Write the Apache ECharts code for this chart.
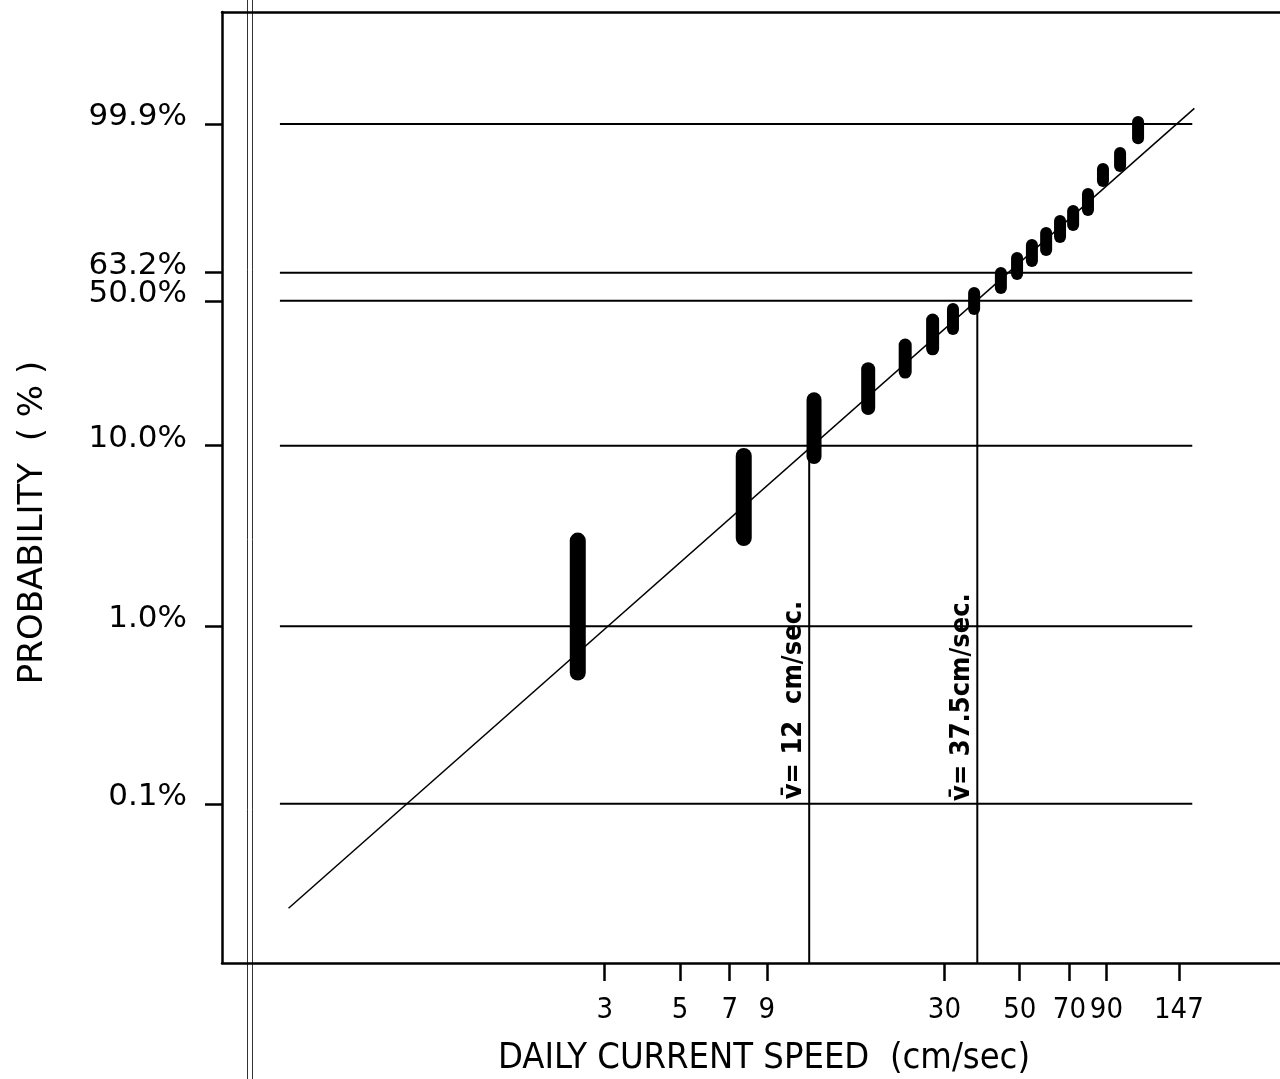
<!DOCTYPE html>
<html>
<head>
<meta charset="utf-8">
<script src="https://cdn.jsdelivr.net/npm/echarts@6/dist/echarts.min.js"></script>
<style>html,body{margin:0;padding:0;background:#fff}#c{width:1280px;height:1079px}</style>
</head>
<body>
<div id="c"></div>
<script>
// ---- data (speeds in cm/sec, probabilities in %) ----
const speedTicks = [3, 5, 7, 9, 30, 50, 70, 90, 147];
const probTicks = [0.1, 1.0, 10.0, 50.0, 63.2, 99.9];
const probTickLabels = ['0.1%', '1.0%', '10.0%', '50.0%', '63.2%', '99.9%'];

// observed clusters: speed bin, lowest and highest plotted probability
const clusterSpeed    = [2.5, 7.7, 12.4, 17.9, 23.0, 27.7, 31.8, 36.7, 44.0, 49.1, 54.3, 59.8, 65.7, 71.8, 79.4, 87.9, 98.7, 111.5];
const clusterProbLow  = [0.55, 3.12, 8.75, 15.8, 24.0, 31.0, 38.1, 46.4, 55.9, 62.5, 68.7, 73.9, 79.6, 84.4, 89.5, 96.28, 98.17, 99.68];
const clusterProbHigh = [3.02, 8.80, 17.4, 24.8, 32.3, 41.7, 46.4, 53.6, 63.0, 70.2, 76.1, 81.2, 85.9, 89.2, 93.8, 97.86, 99.12, 99.916];

// fitted Weibull line end points
const fitSpeed = [0.352, 163.3];
const fitProb  = [0.0257, 99.979];

// horizontal reference lines extent (speed)
const refLineSpeed = [0.332, 161];

// mean speed markers
const meanSpeed = [12, 37.5];
const meanProbTop = [10.0, 50.0];
const meanLabelProb = [0.385, 0.40];
const meanLabels = ['v\u0304= 12  cm/sec.', 'v\u0304= 37.5cm/sec.'];

// axis extents
const xMinSpeed = 0.2242, xMaxSpeed = 291.8;
const yMinW = -8.978, yMaxW = 3.389;

// ---- scales ----
const lg = v => Math.log10(v);
const wb = p => Math.log(-Math.log(1 - p / 100));

const condensed = '"DejaVu Sans Condensed", "Liberation Sans Narrow", "DejaVu Sans", sans-serif';
const sans = '"DejaVu Sans", sans-serif';

const chart = echarts.init(document.getElementById('c'), null, {renderer: 'canvas'});

const series = [];
probTicks.forEach(p => {
  series.push({
    type: 'line', silent: true, symbol: 'none', animation: false,
    data: [[lg(refLineSpeed[0]), wb(p)], [lg(refLineSpeed[1]), wb(p)]],
    lineStyle: {color: '#000', width: 2}
  });
});
series.push({
  type: 'line', silent: true, symbol: 'none', animation: false,
  data: fitSpeed.map((s, i) => [lg(s), wb(fitProb[i])]),
  lineStyle: {color: '#000', width: 1.5}
});
meanSpeed.forEach((s, i) => {
  series.push({
    type: 'line', silent: true, symbol: 'none', animation: false,
    data: [[lg(s), yMinW], [lg(s), wb(meanProbTop[i])]],
    lineStyle: {color: '#000', width: 2}
  });
});
series.push({
  type: 'custom', animation: false, silent: true,
  encode: {x: 0, y: [1, 2]},
  data: clusterSpeed.map((s, i) => [lg(s), wb(clusterProbLow[i]), wb(clusterProbHigh[i])]),
  renderItem: (params, api) => {
    const a = api.coord([api.value(0), api.value(1)]);
    const b = api.coord([api.value(0), api.value(2)]);
    const w = [16, 16, 15, 14, 13, 13][params.dataIndex] || 12;
    return {type: 'line', shape: {x1: a[0], y1: a[1], x2: b[0], y2: b[1]},
      style: {stroke: '#000', lineWidth: w, lineCap: 'round'}};
  }
});
series.push({
  type: 'scatter', silent: true, animation: false, symbolSize: 1,
  itemStyle: {color: 'rgba(0,0,0,0)'},
  data: meanSpeed.map((s, i) => ({value: [lg(s), wb(meanLabelProb[i])],
    label: {formatter: meanLabels[i], color: '#000'}})),
  label: {show: true, position: 'left', distance: 1, rotate: 90, align: 'center', verticalAlign: 'bottom',
    fontSize: 27, fontWeight: 'bold', fontFamily: condensed, color: '#000', opacity: 1, textBorderWidth: 0}
});

const findLabel = (val, arr, fn, labels) => {
  for (let i = 0; i < arr.length; i++) if (Math.abs(fn(arr[i]) - val) < 1e-6) return labels ? labels[i] : String(arr[i]);
  return '';
};

chart.setOption({
  backgroundColor: '#fff',
  animation: false,
  grid: {left: 222, top: 12, right: 0, bottom: 116, containLabel: false, outerBoundsMode: 'none'},
  xAxis: [{
    type: 'value', min: lg(xMinSpeed), max: lg(xMaxSpeed),
    splitLine: {show: false},
    axisLine: {show: true, onZero: false, lineStyle: {color: '#000', width: 2.5}},
    axisTick: {show: true, length: 18, customValues: speedTicks.map(lg), lineStyle: {color: '#000', width: 2.5}},
    axisLabel: {show: true, margin: 33, customValues: speedTicks.map(lg),
      formatter: v => findLabel(v, speedTicks, lg),
      fontSize: 29, fontFamily: condensed, color: '#000'},
    name: 'DAILY CURRENT SPEED  (cm/sec)', nameLocation: 'middle', nameGap: 78,
    nameTextStyle: {fontSize: 36, fontFamily: condensed, color: '#000', padding: [0, 0, 0, 26]}
  }, {
    type: 'value', position: 'top', min: lg(xMinSpeed), max: lg(xMaxSpeed),
    splitLine: {show: false}, axisTick: {show: false}, axisLabel: {show: false},
    axisLine: {show: true, onZero: false, lineStyle: {color: '#000', width: 2.5}}
  }],
  yAxis: {
    type: 'value', min: yMinW, max: yMaxW,
    splitLine: {show: false},
    axisLine: {show: true, onZero: false, lineStyle: {color: '#000', width: 2.5}},
    axisTick: {show: true, length: 17, customValues: probTicks.map(wb), lineStyle: {color: '#000', width: 2.5}},
    axisLabel: {show: true, margin: 35, customValues: probTicks.map(wb),
      formatter: v => findLabel(v, probTicks, wb, probTickLabels),
      fontSize: 31, fontFamily: sans, color: '#000', verticalAlign: 'bottom', lineHeight: 14},
    name: 'PROBABILITY  ( % )', nameLocation: 'middle', nameGap: 172, nameRotate: 90,
    nameTextStyle: {fontSize: 34, fontFamily: sans, color: '#000', padding: [0, 70, 0, 0]}
  },
  graphic: [
    {type: 'line', silent: true, shape: {x1: 247.5, y1: 0, x2: 247.5, y2: 1079}, style: {stroke: '#333', lineWidth: 1}},
    {type: 'line', silent: true, shape: {x1: 252.5, y1: 0, x2: 252.5, y2: 1079}, style: {stroke: '#333', lineWidth: 1}}
  ],
  series: series
});
</script>
</body>
</html>
